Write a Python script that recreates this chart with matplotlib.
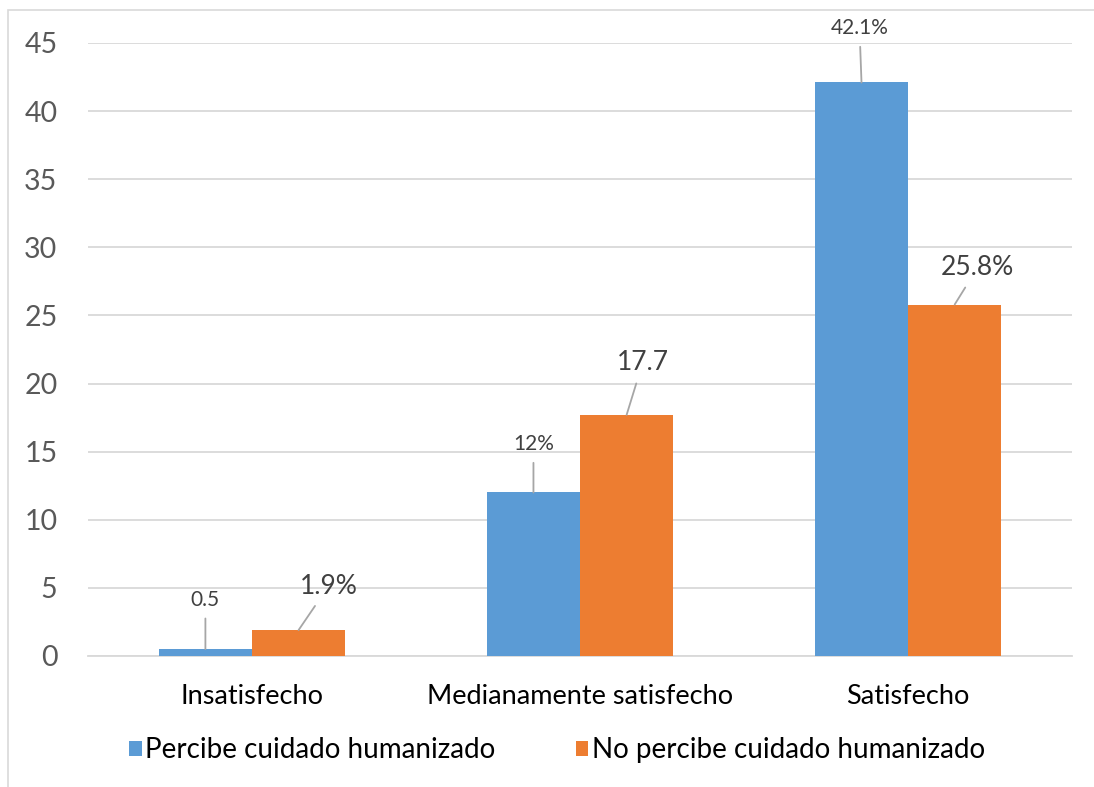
import numpy as np
import matplotlib.pyplot as plt
from matplotlib.patches import Rectangle

# data
categorias = ["Insatisfecho", "Medianamente satisfecho", "Satisfecho"]
series = ["Percibe cuidado humanizado", "No percibe cuidado humanizado"]
percibe = [0.5, 12, 42.1]
no_percibe = [1.9, 17.7, 25.8]
etiquetas_percibe = ["0.5", "12%", "42.1%"]
etiquetas_no_percibe = ["1.9%", "17.7", "25.8%"]

azul = "#5B9BD5"
naranja = "#ED7D31"
gris_texto = "#595959"

plt.rcParams["font.family"] = ["Lato", "DejaVu Sans"]

fig = plt.figure(figsize=(10.94, 7.87), dpi=100)
ax = fig.add_axes([0.0804, 0.1665, 0.8996, 0.7789])

# outer chart border
fig.patches.append(Rectangle((8 / 1094, -0.05), 1.1, 1 - 10 / 787 + 0.05,
                             transform=fig.transFigure, fill=False,
                             edgecolor="#D9D9D9", linewidth=1.2))

x = np.arange(len(categorias))
w = 0.284
b1 = ax.bar(x - w / 2, percibe, w, color=azul, label=series[0], zorder=3)
b2 = ax.bar(x + w / 2, no_percibe, w, color=naranja, label=series[1], zorder=3)

ax.set_xlim(-0.5, 2.5)
ax.set_ylim(0, 45)
ax.set_yticks(range(0, 46, 5))
ax.set_xticks(x)
ax.set_xticklabels(categorias)
ax.grid(axis="y", color="#D9D9D9", linewidth=1.3, zorder=0)
for s in ["top", "right", "left"]:
    ax.spines[s].set_visible(False)
ax.spines["bottom"].set_color("#D9D9D9")
ax.spines["bottom"].set_linewidth(1.3)
ax.tick_params(axis="both", length=0, colors=gris_texto)
ax.tick_params(axis="y", labelsize=20.5, pad=22)
ax.tick_params(axis="x", labelsize=19.5, pad=20)
for t in ax.get_xticklabels():
    t.set_color("#000000")

# data labels with leader lines (offsets in pixels)
desp_percibe = [(0, 49), (0, 48), (-2, 54)]
desp_no_percibe = [(30, 44), (16, 52), (23, 37)]


def etiquetar(barras, valores, textos, desps, size):
    for rect, v, t, (dx, dy) in zip(barras, valores, textos, desps):
        cx = rect.get_x() + rect.get_width() / 2
        ax.annotate(t, xy=(cx, v), xytext=(dx, dy), textcoords="offset pixels",
                    ha="center", va="center", fontsize=size, color="#404040",
                    arrowprops=dict(arrowstyle="-", color="#A6A6A6", lw=1.3,
                                    shrinkA=4, shrinkB=0),
                    zorder=4)


etiquetar(b1, percibe, etiquetas_percibe, desp_percibe, 15)
etiquetar(b2, no_percibe, etiquetas_no_percibe, desp_no_percibe, 19)

fig.legend(handles=[b1, b2], labels=series, loc="center",
           bbox_to_anchor=(0.509, 1 - 750 / 787), ncol=2, frameon=False,
           fontsize=20, handlelength=0.45, handleheight=0.45, handletextpad=0.12,
           columnspacing=2.9)

fig.savefig("out.png", dpi=100)
